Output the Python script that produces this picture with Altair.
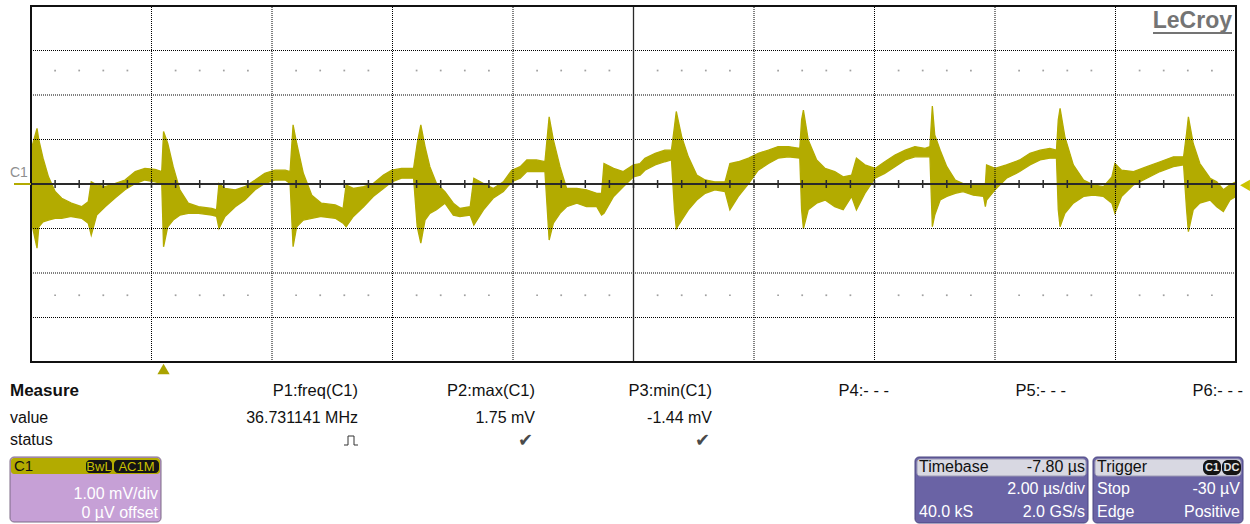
import altair as alt
import numpy as np
import pandas as pd

# ---------------------------------------------------------------------------
# C1 trace: envelope of the acquired record, one period of ringing per group
# time in µs, upper / lower edge of the trace in mV
# ---------------------------------------------------------------------------
t_us = [
    -2.20, -2.10, -2.07, -2.00, -1.91, -1.80, -1.69, -1.53, -1.36, -1.25, -1.20, -1.11, -0.97, -0.81, -0.64, -0.47, -0.31, -0.14, -0.03,
    0.00, 0.07, 0.16, 0.27, 0.41, 0.58, 0.80, 0.88, 0.92, 1.02, 1.19, 1.35, 1.52, 1.68, 1.85, 2.02, 2.10,
    2.15, 2.21, 2.32, 2.46, 2.62, 2.85, 2.98, 3.03, 3.15, 3.32, 3.48, 3.65, 3.79, 3.95, 4.15,
    4.21, 4.27, 4.34, 4.42, 4.53, 4.67, 4.81, 4.92, 5.09, 5.15, 5.31, 5.47, 5.64, 5.78, 5.92, 6.03, 6.19, 6.33,
    6.40, 6.47, 6.58, 6.69, 6.86, 7.02, 7.19, 7.27, 7.31, 7.47, 7.63, 7.80, 7.91, 7.99, 8.16, 8.32, 8.43,
    8.48, 8.51, 8.60, 8.71, 8.85, 8.99, 9.15, 9.32, 9.40, 9.54, 9.71, 9.87, 10.04, 10.20, 10.37, 10.56,
    10.59, 10.62, 10.70, 10.84, 10.98, 11.14, 11.28, 11.42, 11.50, 11.64, 11.81, 11.97, 12.14, 12.31, 12.47, 12.64, 12.72,
    12.76, 12.80, 12.89, 13.00, 13.14, 13.27, 13.44, 13.61, 13.64, 13.66, 13.80, 13.99, 14.21, 14.38, 14.55, 14.71, 14.82,
    14.85, 14.88, 14.96, 15.10, 15.27, 15.43, 15.60, 15.74, 15.79, 15.90, 16.10, 16.32, 16.54, 16.76, 16.93,
    16.98, 17.01, 17.09, 17.20, 17.37, 17.48, 17.59, 17.70, 17.80,
]
hi_mV = [
    0.76, 1.25, 0.99, 0.58, 0.16, -0.17, -0.32, -0.43, -0.51, -0.40, 0.05, -0.02, -0.06, 0.01, 0.09, 0.28, 0.35, 0.33, 0.28,
    1.18, 0.91, 0.39, -0.13, -0.43, -0.51, -0.55, -0.58, 0.01, -0.10, -0.13, -0.06, 0.09, 0.24, 0.31, 0.31, 0.28,
    1.33, 0.91, 0.24, -0.25, -0.43, -0.47, -0.55, -0.02, -0.10, -0.06, 0.01, 0.20, 0.31, 0.35, 0.35,
    0.91, 1.33, 0.84, 0.39, 0.01, -0.17, -0.43, -0.55, -0.51, 0.13, 0.01, -0.10, 0.05, 0.31, 0.39, 0.54, 0.54, 0.50,
    1.51, 0.99, 0.39, -0.10, -0.10, -0.13, -0.21, -0.21, 0.46, 0.35, 0.28, 0.43, 0.46, 0.58, 0.69, 0.76, 0.76,
    1.29, 1.63, 1.06, 0.61, 0.20, 0.09, 0.05, 0.05, 0.46, 0.50, 0.58, 0.69, 0.76, 0.84, 0.84, 0.80,
    1.44, 1.66, 0.99, 0.54, 0.35, 0.28, 0.16, 0.20, 0.58, 0.43, 0.35, 0.50, 0.65, 0.76, 0.84, 0.80, 0.84,
    1.75, 1.10, 0.76, 0.39, 0.09, 0.01, -0.02, 0.01, -0.02, 0.43, 0.35, 0.43, 0.54, 0.69, 0.76, 0.80, 0.76,
    1.44, 1.70, 1.06, 0.43, 0.09, -0.02, -0.06, 0.16, 0.46, 0.31, 0.28, 0.39, 0.50, 0.61, 0.61,
    1.14, 1.51, 0.91, 0.46, 0.13, 0.05, -0.13, -0.02, 0.05,
]
lo_mV = [
    -0.81, -1.44, -0.96, -0.85, -0.81, -0.77, -0.77, -0.73, -0.77, -0.88, -1.15, -0.70, -0.51, -0.32, -0.13, 0.01, 0.09, 0.05, 0.01,
    -1.41, -0.96, -0.81, -0.70, -0.66, -0.66, -0.70, -0.73, -1.00, -0.73, -0.51, -0.36, -0.13, 0.01, 0.09, 0.09, 0.01,
    -1.41, -0.96, -0.81, -0.77, -0.73, -0.77, -0.88, -0.96, -0.73, -0.51, -0.28, -0.10, 0.05, 0.13, 0.13,
    -0.96, -1.33, -0.81, -0.66, -0.58, -0.43, -0.70, -0.73, -0.70, -0.92, -0.58, -0.32, -0.17, 0.05, 0.13, 0.28, 0.28, 0.28,
    -1.26, -0.88, -0.66, -0.51, -0.43, -0.51, -0.51, -0.70, -0.66, -0.28, -0.06, 0.16, 0.20, 0.31, 0.43, 0.50, 0.54,
    -0.58, -1.00, -0.81, -0.58, -0.36, -0.21, -0.13, -0.17, -0.58, -0.28, 0.01, 0.31, 0.46, 0.58, 0.61, 0.58,
    -0.58, -1.00, -0.58, -0.43, -0.36, -0.51, -0.58, -0.28, -0.58, -0.21, 0.13, 0.24, 0.39, 0.54, 0.61, 0.61, 0.61,
    -0.96, -0.70, -0.36, -0.28, -0.21, -0.17, -0.25, -0.28, -0.51, -0.36, -0.13, 0.13, 0.28, 0.43, 0.54, 0.58, 0.58,
    -0.58, -0.96, -0.66, -0.43, -0.28, -0.25, -0.28, -0.43, -0.66, -0.28, -0.02, 0.13, 0.28, 0.39, 0.43,
    -0.58, -1.07, -0.58, -0.43, -0.36, -0.51, -0.62, -0.36, -0.28,
]

# ---------------------------------------------------------------------------
# acquisition setup
# ---------------------------------------------------------------------------
T_LEFT, T_RIGHT = -2.2, 17.8      # 10 div x 2.00 µs/div, delay -7.80 µs
T_CENTER = 7.8
V_LOW, V_HIGH = -4.0, 4.0         # 8 div x 1.00 mV/div, 0 µV offset
trigger_time_us = [0.0]
trigger_level_mV = [-0.03]
channel_offset_mV = [0.0]

# measurement table
param_names = ["P1:freq(C1)", "P2:max(C1)", "P3:min(C1)", "P4:- - -", "P5:- - -", "P6:- - -"]
param_values = ["36.731141 MHz", "1.75 mV", "-1.44 mV", "", "", ""]
param_status = ["pulse", "ok", "ok", "", "", ""]
row_labels = ["Measure", "value", "status"]

# descriptor boxes
c1_tags = ["BwL", "AC1M"]
c1_lines = ["1.00 mV/div", "0 µV offset"]
timebase_rows = [("Timebase", "-7.80 µs"), ("", "2.00 µs/div"), ("40.0 kS", "2.0 GS/s")]
trigger_rows = [("Trigger", ""), ("Stop", "-30 µV"), ("Edge", "Positive")]
trigger_tags = ["C1", "DC"]

# ---------------------------------------------------------------------------
TRACE = "#b3ab00"
INK = "#111111"
FONT = "Liberation Sans"

xs = alt.Scale(domain=[T_LEFT, T_RIGHT], range=[31, 1236])
ys = alt.Scale(domain=[V_LOW, V_HIGH], range=[362, 6])
ONE = pd.DataFrame({"k": [0]})


def X(field):
    return alt.X(f"{field}:Q", scale=xs, axis=None)


def Y(field):
    return alt.Y(f"{field}:Q", scale=ys, axis=None)


def txt(s, x, y, size=16, color=INK, align="left", weight="normal", font=FONT):
    return alt.Chart(ONE).mark_text(
        text=s, align=align, baseline="middle", fontSize=size,
        color=color, fontWeight=weight, font=font,
    ).encode(x=alt.value(x), y=alt.value(y))


def box(x1, x2, y1, y2, fill, stroke=None, radius=0, sw=1.0):
    kw = dict(fill=fill, cornerRadius=radius, fillOpacity=1)
    if stroke:
        kw.update(stroke=stroke, strokeWidth=sw)
    return alt.Chart(ONE).mark_rect(**kw).encode(
        x=alt.value(x1), x2=alt.value(x2), y=alt.value(y1), y2=alt.value(y2)
    )


def seg(x1, x2, y1, y2, color, width=1.0):
    return alt.Chart(ONE).mark_rule(color=color, strokeWidth=width).encode(
        x=alt.value(x1), x2=alt.value(x2), y=alt.value(y1), y2=alt.value(y2)
    )


layers = []

# ---- trace ---------------------------------------------------------------
wave = pd.DataFrame({"t": t_us, "hi": hi_mV, "lo": lo_mV})
layers.append(
    alt.Chart(wave).mark_area(color=TRACE, stroke=TRACE, strokeWidth=1.3, opacity=1, interpolate="linear")
    .encode(x=X("t"), y=Y("hi"), y2="lo:Q")
)

# ---- graticule -------------------------------------------------------------
div_t = T_LEFT + 2.0 * np.arange(11)
minor_t = T_LEFT + 0.4 * np.arange(51)

vgrid = pd.DataFrame({"t": [t for t in div_t[1:-1] if abs(t - T_CENTER) > 1e-6]})
vgrid["v0"], vgrid["v1"] = V_LOW, V_HIGH
hgrid = pd.DataFrame({"v": [-3.0, -2.0, -1.0, 1.0, 2.0, 3.0]})
hgrid["t0"], hgrid["t1"] = T_LEFT, T_RIGHT

layers.append(
    alt.Chart(vgrid).mark_rule(color="#000000", strokeWidth=1, strokeDash=[1, 1])
    .encode(x=X("t"), y=Y("v0"), y2="v1:Q")
)
layers.append(
    alt.Chart(hgrid).mark_rule(color="#000000", strokeWidth=1, strokeDash=[1, 1])
    .encode(y=Y("v"), x=X("t0"), x2="t1:Q")
)

# faint minor-division dots
dots_t = [t for i, t in enumerate(minor_t) if i % 5 != 0]
dots = pd.DataFrame({"t": dots_t * 2, "v": [2.55] * len(dots_t) + [-2.5] * len(dots_t)})
layers.append(
    alt.Chart(dots).mark_point(filled=True, shape="square", size=3, color="#a0a0a0", opacity=1)
    .encode(x=X("t"), y=Y("v"))
)

# center axes; the horizontal one carries minor ticks
cx = pd.DataFrame({"t": [T_CENTER], "v0": [V_LOW], "v1": [V_HIGH]})
cy = pd.DataFrame({"v": [0.0], "t0": [T_LEFT], "t1": [T_RIGHT]})
layers.append(alt.Chart(cx).mark_rule(color="#2a2a2a", strokeWidth=1.3).encode(x=X("t"), y=Y("v0"), y2="v1:Q"))
layers.append(alt.Chart(cy).mark_rule(color="#2a2a2a", strokeWidth=2).encode(y=Y("v"), x=X("t0"), x2="t1:Q"))

ticks_x = pd.DataFrame({"t": minor_t, "v0": -0.09, "v1": 0.09})
layers.append(alt.Chart(ticks_x).mark_rule(color="#2a2a2a", strokeWidth=1.5).encode(x=X("t"), y=Y("v0"), y2="v1:Q"))

# frame
frame = pd.DataFrame({"t0": [T_LEFT], "t1": [T_RIGHT], "v0": [V_LOW], "v1": [V_HIGH]})
layers.append(
    alt.Chart(frame).mark_rect(fillOpacity=0, stroke=INK, strokeWidth=2)
    .encode(x=X("t0"), x2="t1:Q", y=Y("v0"), y2="v1:Q")
)

# ---- markers -----------------------------------------------------------------
layers.append(
    alt.Chart(pd.DataFrame({"t": trigger_time_us}))
    .mark_point(shape="triangle-up", filled=True, size=150, color="#aaa300", opacity=1)
    .encode(x=X("t"), y=alt.value(369))
)
layers.append(
    alt.Chart(pd.DataFrame({"v": trigger_level_mV}))
    .mark_point(shape="triangle-left", filled=True, size=130, color="#cbc300", opacity=1)
    .encode(x=alt.value(1245), y=Y("v"))
)
layers.append(
    alt.Chart(pd.DataFrame({"v": channel_offset_mV}))
    .mark_rule(color=TRACE, strokeWidth=2)
    .encode(y=Y("v"), x=alt.value(14), x2=alt.value(31))
)
layers.append(txt("C1", 10, 173, size=14, color="#8f8f8f"))

# brand
layers.append(txt("LeCroy", 1232, 21, size=23, color="#747474", align="right", weight="bold"))
layers.append(seg(1153, 1232, 33, 33, "#747474", 2))

# ---- measurement table --------------------------------------------------------
row_y = [391, 418, 440]
layers.append(txt(row_labels[0], 10, row_y[0], size=17, weight="bold"))
layers.append(txt(row_labels[1], 10, row_y[1]))
layers.append(txt(row_labels[2], 10, row_y[2]))

for i, (name, val, st) in enumerate(zip(param_names, param_values, param_status)):
    right = 358 + 177 * i
    layers.append(txt(name, right, row_y[0], size=16.5, align="right"))
    if val:
        layers.append(txt(val, right, row_y[1], align="right"))
    if st == "ok":
        layers.append(txt("✔", right - 2, row_y[2] + 1, size=18, color="#4a4a4a", align="right", font="DejaVu Sans"))
    elif st == "pulse":
        c = "#333333"
        layers += [
            seg(right - 14, right - 10, 445, 445, c), seg(right - 10, right - 10, 436, 445, c),
            seg(right - 10, right - 4, 436, 436, c), seg(right - 4, right - 4, 436, 445, c),
            seg(right - 4, right, 445, 445, c),
        ]

# ---- C1 descriptor -----------------------------------------------------------
layers.append(box(10, 161, 457, 522, "#c6a0d6", stroke="#7d6a86", radius=4))
layers.append(box(11, 160, 458, 474, TRACE, radius=3))
layers.append(txt("C1", 14, 466, size=15, color=INK))
layers.append(box(86, 112, 460, 473, "#141414", radius=4))
layers.append(box(114, 159, 460, 473, "#141414", radius=4))
layers.append(txt(c1_tags[0], 99, 467, size=13, color="#c8c000", align="center"))
layers.append(txt(c1_tags[1], 136.5, 467, size=13, color="#c8c000", align="center"))
layers.append(txt(c1_lines[0], 158, 494, size=16, color="white", align="right"))
layers.append(txt(c1_lines[1], 158, 513, size=16, color="white", align="right"))

# ---- timebase & trigger descriptors -----------------------------------------
PANEL = "#6a63a5"
HEAD = "#d8d8e2"
for x1, x2, rows in [(915, 1088, timebase_rows), (1093, 1243, trigger_rows)]:
    layers.append(box(x1, x2, 457, 523, PANEL, stroke="#4b4680", radius=4))
    layers.append(box(x1 + 2, x2 - 2, 459, 476, HEAD, stroke="#9c9ab4", radius=3))
    for j, (left, rt) in enumerate(rows):
        yy = [467, 489, 512][j]
        col = INK if j == 0 else "white"
        if left:
            layers.append(txt(left, x1 + 4, yy, color=col))
        if rt:
            layers.append(txt(rt, x2 - 3, yy, color=col, align="right"))

layers.append(box(1203, 1221, 460, 475, "#141414", radius=6))
layers.append(box(1222, 1241, 460, 475, "#141414", radius=6))
layers.append(txt(trigger_tags[0], 1212, 468, size=11, color="#e6e6e6", align="center", weight="bold"))
layers.append(txt(trigger_tags[1], 1231.5, 468, size=11, color="#e6e6e6", align="center", weight="bold"))

chart = (
    alt.layer(*layers)
    .properties(width=1250, height=524, padding=0, background="white",
                autosize=alt.AutoSizeParams(type="none"))
    .configure_view(stroke=None)
)

chart.save("out.html", embed_options={"renderer": "svg", "actions": False})
